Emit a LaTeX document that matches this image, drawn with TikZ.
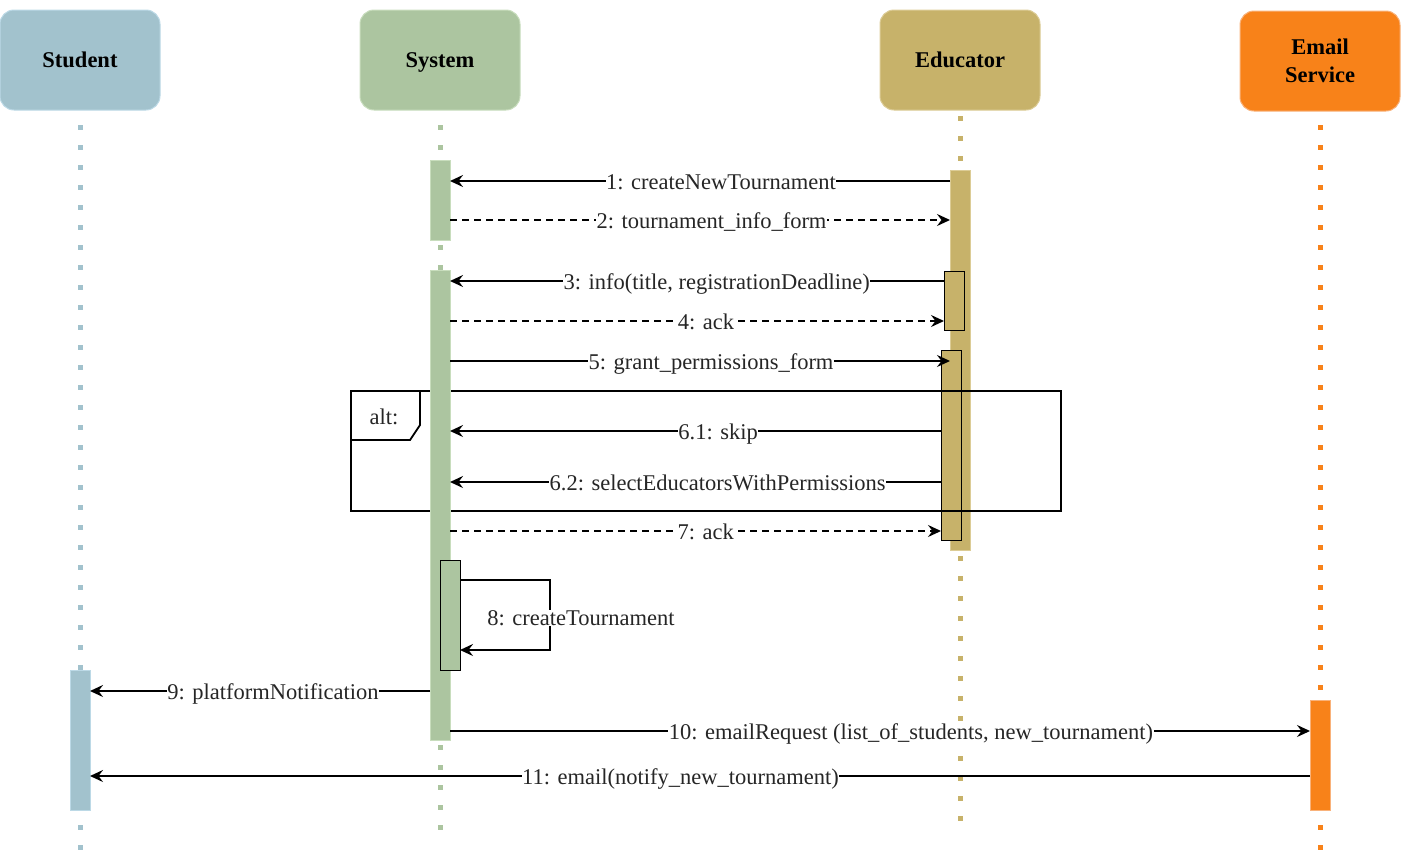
\documentclass[tikz,border=0pt]{standalone}
\usepackage{fontspec}
\setmainfont{Liberation Serif}
\usetikzlibrary{arrows.meta,calc}
\definecolor{stuC}{HTML}{A2C2CD}
\definecolor{stuB}{HTML}{BCD9E6}
\definecolor{sysC}{HTML}{ACC5A0}
\definecolor{sysB}{HTML}{C8DDBD}
\definecolor{eduC}{HTML}{C7B26A}
\definecolor{eduB}{HTML}{DCCC96}
\definecolor{emC}{HTML}{F88219}
\definecolor{emB}{HTML}{F9B27A}
\newcommand\myfs{\fontsize{22.5pt}{28pt}\selectfont}
\tikzset{
  hdr/.style={rounded corners=14pt, minimum width=160pt, minimum height=100pt, inner sep=0pt, line width=1pt, font=\myfs\bfseries, text=black, align=center},
  onehdr/.style={hdr, text height=15pt, text depth=0pt},
  life/.style={line width=5pt, dash pattern=on 5pt off 15pt},
  bar/.style={inner sep=0pt, outer sep=0pt, anchor=north west, minimum width=20pt, line width=1pt},
  msg/.style={draw=black, line width=2pt, -{Stealth[length=13pt,width=12pt,inset=4.5pt]}},
  ret/.style={msg, dash pattern=on 7pt off 5pt},
  lbl/.style={fill=white, inner sep=0.5pt, text=black!85, font=\myfs, anchor=base, yshift=-8.5pt},
}
\begin{document}
\begin{tikzpicture}[x=1pt,y=-1pt]
\useasboundingbox (0,0) rectangle (1401,860);
% headers
\node[onehdr, fill=stuC, draw=stuB] (student) at (80,60) {Student};
\node[onehdr, fill=sysC, draw=sysB] (system) at (440,60) {System};
\node[onehdr, fill=eduC, draw=eduB] (educator) at (960,60) {Educator};
\node[hdr, fill=emC, draw=emB] (email) at (1320,61) {Email\\Service};
% lifelines
\coordinate (stuEnd) at (80,850);
\coordinate (sysEnd) at (440,830);
\coordinate (eduEnd) at (960,821);
\coordinate (emEnd) at (1320,850);
\draw[life, stuC] (student.south |- 0,125) -- (stuEnd);
\draw[life, sysC] (system.south |- 0,125) -- (sysEnd);
\draw[life, eduC] (educator.south |- 0,116) -- (eduEnd);
\draw[life, emC] (email.south |- 0,125) -- (emEnd);
% educator activations
\node[bar, fill=eduC, draw=eduB, minimum height=380pt] (eb) at (950,170) {};
\node[bar, fill=eduC, draw=black, minimum height=59pt] (es1) at (944,271) {};
\node[bar, fill=eduC, draw=black, minimum height=190pt] (es2) at (941,350) {};
% alt frame
\node[draw=black, line width=1.8pt, anchor=north west, inner sep=0pt, minimum width=710pt, minimum height=120pt] (altf) at (350,390) {};
\draw[line width=1.8pt] (altf.north west) ++(70,0) -- ++(0,35) -- ++(-10,15) -- ++(-60,0);
\node[font=\myfs, text=black!85, anchor=base] (altlbl) at (384,424) {alt:};
% system activations
\node[bar, fill=sysC, draw=sysB, minimum height=80pt] (sb1) at (430,160) {};
\node[bar, fill=sysC, draw=sysB, minimum height=470pt] (sb2) at (430,270) {};
\node[bar, fill=sysC, draw=black, minimum height=110pt] (ss) at (440,560) {};
% student / email activations
\node[bar, fill=stuC, draw=stuB, minimum height=140pt] (stb) at (70,670) {};
\node[bar, fill=emC, draw=emB, minimum height=110pt] (emb) at (1310,700) {};
% messages
\draw[msg] (eb.west |- 0,181) -- node[lbl, pos=0.458] {1: createNewTournament} (sb1.east |- 0,181);
\draw[ret] (sb1.east |- 0,220) -- node[lbl, pos=0.523] {2: tournament\_info\_form} (eb.west |- 0,220);
\draw[msg] (es1.west |- 0,281) -- node[lbl, pos=0.46] {3: info(title, registrationDeadline)} (sb2.east |- 0,281);
\draw[ret] (sb2.east |- 0,321) -- node[lbl, pos=0.518] {4: ack} (es1.west |- 0,321);
\draw[msg] (sb2.east |- 0,361) -- node[lbl, pos=0.522] {5: grant\_permissions\_form} (eb.west |- 0,361);
\draw[msg] (es2.west |- 0,431) -- node[lbl, pos=0.454] {6.1: skip} (sb2.east |- 0,431);
\draw[msg] (es2.west |- 0,482) -- node[lbl, pos=0.455] {6.2: selectEducatorsWithPermissions} (sb2.east |- 0,482);
\draw[ret] (sb2.east |- 0,531) -- node[lbl, pos=0.521] {7: ack} (es2.west |- 0,531);
\draw[msg] (ss.north east) ++(0,20) -- ++(90,0) -- ++(0,70) -- ++(-90,0);
\node[lbl, yshift=8.5pt] (m8) at (581,625) {8: createTournament};
\draw[msg] (sb2.west |- 0,691) -- node[lbl, pos=0.462] {9: platformNotification} (stb.east |- 0,691);
\draw[msg] (sb2.east |- 0,731) -- node[lbl, pos=0.536] {10: emailRequest (list\_of\_students, new\_tournament)} (emb.west |- 0,731);
\draw[msg] (emb.west |- 0,776) -- node[lbl, pos=0.516] {11: email(notify\_new\_tournament)} (stb.east |- 0,776);
\end{tikzpicture}
\end{document}
